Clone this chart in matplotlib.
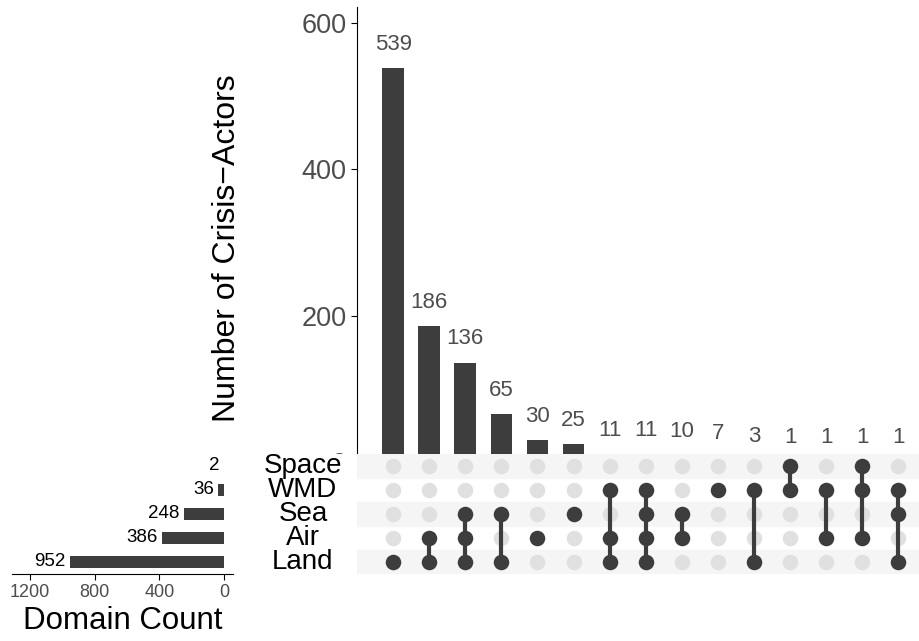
import matplotlib

matplotlib.use("Agg")
import matplotlib.pyplot as plt
import matplotlib.transforms as mtransforms
from matplotlib.patches import Rectangle

plt.rcParams["font.family"] = ["Liberation Sans", "DejaVu Sans"]

# sets, listed bottom row first
set_names = ["Land", "Air", "Sea", "WMD", "Space"]
set_sizes = [952, 386, 248, 36, 2]

# intersections, left to right
intersection_sets = [
    ["Land"],
    ["Land", "Air"],
    ["Land", "Air", "Sea"],
    ["Land", "Sea"],
    ["Air"],
    ["Sea"],
    ["Land", "Air", "WMD"],
    ["Land", "Air", "Sea", "WMD"],
    ["Air", "Sea"],
    ["WMD"],
    ["Land", "WMD"],
    ["WMD", "Space"],
    ["Air", "WMD"],
    ["Air", "WMD", "Space"],
    ["Land", "Sea", "WMD"],
]
intersection_counts = [539, 186, 136, 65, 30, 25, 11, 11, 10, 7, 3, 1, 1, 1, 1]

DARK = "#3d3d3d"
LIGHT_DOT = "#e0e0e0"
STRIPE = "#f5f5f5"
TICK_GRAY = "#4d4d4d"

W, H = 920, 641


def fig_rect(left: float, top: float, right: float, bottom: float) -> list[float]:
    return [left / W, 1 - bottom / H, (right - left) / W, (bottom - top) / H]


fig = plt.figure(figsize=(W / 100, H / 100), dpi=100)

# intersection size bars
ax_bar = fig.add_axes(fig_rect(357, 7, 920, 462))
ax_bar.set_zorder(-1)
cols = list(range(len(intersection_counts)))
ax_bar.bar(cols, intersection_counts, width=0.6, color=DARK)
for x, v in zip(cols, intersection_counts):
    ax_bar.annotate(str(v), xy=(x, v), xytext=(0, 17), textcoords="offset points",
                    ha="center", va="center", fontsize=16, color=TICK_GRAY)
ax_bar.set_xlim(-1, 14.6)
ax_bar.set_ylim(0, 622)
ax_bar.set_yticks([0, 200, 400, 600])
ax_bar.set_xticks([])
for side in ["top", "right", "bottom"]:
    ax_bar.spines[side].set_visible(False)
ax_bar.spines["left"].set_color("black")
ax_bar.tick_params(axis="y", labelsize=19.5, labelcolor=TICK_GRAY, length=4, color="black")
ax_bar.set_ylabel("Number of Crisis\u2212Actors", fontsize=23)
ax_bar.yaxis.set_label_coords(-0.205, 0.47)

# the matrix panel hides the bottom of the bar panel, as in the original
fig.patches.append(Rectangle((240 / W, 0), 1, 1 - 454 / H, transform=fig.transFigure,
                             facecolor="white", edgecolor="none", zorder=-0.5))

# membership matrix
ax_mat = fig.add_axes(fig_rect(357, 454, 920, 574))
ax_mat.set_xlim(-1, 14.6)
ax_mat.set_ylim(-0.5, len(set_names) - 0.5)
for row in range(0, len(set_names), 2):
    ax_mat.axhspan(row - 0.5, row + 0.5, color=STRIPE, zorder=0)
for x, members in zip(cols, intersection_sets):
    rows = [set_names.index(s) for s in members]
    inactive = [r for r in range(len(set_names)) if r not in rows]
    ax_mat.scatter([x] * len(inactive), inactive, s=125, color=LIGHT_DOT, zorder=1, linewidths=0)
    if len(rows) > 1:
        ax_mat.plot([x, x], [min(rows), max(rows)], color=DARK, lw=3, zorder=2)
    ax_mat.scatter([x] * len(rows), rows, s=125, color=DARK, zorder=3, linewidths=0)
ax_mat.axis("off")

# set names
name_trans = mtransforms.blended_transform_factory(fig.transFigure, ax_mat.transData)
for r, name in enumerate(set_names):
    fig.text(303 / W, r, name, transform=name_trans, ha="center", va="center", fontsize=20)

# set size bars
ax_set = fig.add_axes(fig_rect(12, 454, 233, 574))
ax_set.barh(range(len(set_names)), set_sizes, height=0.5, color=DARK)
for r, v in enumerate(set_sizes):
    ax_set.annotate(str(v), xy=(v, r), xytext=(-3, 0), textcoords="offset points",
                    ha="right", va="center", fontsize=13.5)
ax_set.set_xlim(1310, -55)
ax_set.set_ylim(-0.5, len(set_names) - 0.5)
ax_set.set_xticks([1200, 800, 400, 0])
ax_set.set_yticks([])
for side in ["top", "right", "left"]:
    ax_set.spines[side].set_visible(False)
ax_set.tick_params(axis="x", labelsize=13, labelcolor=TICK_GRAY, length=4)
ax_set.set_xlabel("Domain Count", fontsize=22.5, labelpad=3)

fig.savefig("out.png", dpi=100)
plt.close(fig)
